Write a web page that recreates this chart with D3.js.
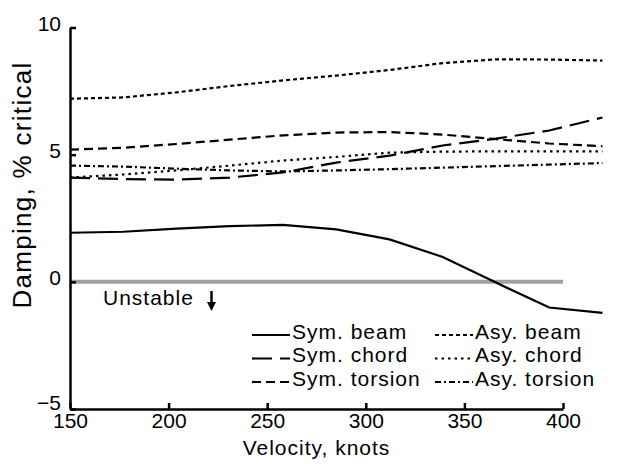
<!DOCTYPE html>
<html>
<head>
<meta charset="utf-8">
<script src="https://cdn.jsdelivr.net/npm/d3@7/dist/d3.min.js"></script>
<style>
  html, body { margin: 0; padding: 0; background: #fff; }
  svg { display: block; }
  text { font-family: "Liberation Sans", Arial, Helvetica, sans-serif; fill: #000; }
</style>
</head>
<body>
<svg id="chart" width="624" height="464"></svg>
<script>
// ---- data ----
const velocity   = [150, 177, 204, 231, 258, 285, 312, 339, 366, 393, 420];
const symBeam    = [1.93, 1.97, 2.09, 2.19, 2.24, 2.06, 1.67, 0.98, -0.03, -1.01, -1.22];
const symChord   = [4.10, 4.04, 4.02, 4.10, 4.30, 4.69, 4.96, 5.36, 5.63, 5.95, 6.46];
const symTorsion = [5.20, 5.27, 5.42, 5.59, 5.76, 5.87, 5.89, 5.79, 5.61, 5.44, 5.33];
const asyBeam    = [7.20, 7.25, 7.45, 7.70, 7.92, 8.11, 8.33, 8.60, 8.75, 8.74, 8.70];
const asyChord   = [4.10, 4.22, 4.38, 4.57, 4.77, 4.91, 5.08, 5.12, 5.13, 5.13, 5.13];
const asyTorsion = [4.57, 4.53, 4.45, 4.38, 4.34, 4.38, 4.43, 4.49, 4.55, 4.61, 4.67];
const seriesNames = ["Sym. beam", "Sym. chord", "Sym. torsion", "Asy. beam", "Asy. chord", "Asy. torsion"];
const xTicks = [150, 200, 250, 300, 350, 400];
const yTicks = [-5, 0, 5, 10];
const xTitle = "Velocity, knots";
const yTitle = "Damping, % critical";
const noteText = "Unstable";

const seriesValues = [symBeam, symChord, symTorsion, asyBeam, asyChord, asyTorsion];
const dashes = [null, "20,8", "9,5", "4,3", "2.5,4", "6,3,2,3"];

const svg = d3.select("#chart");
const x = d3.scaleLinear().domain([150, 400]).range([70, 563]);
const y = d3.scaleLinear().domain([-5, 10]).range([409, 27.5]);

// zero line
svg.append("line")
  .attr("x1", x(150)).attr("x2", x(400))
  .attr("y1", y(0)).attr("y2", y(0))
  .attr("stroke", "#a0a0a0").attr("stroke-width", 4);

// series lines
const line = d3.line().x(d => x(d[0])).y(d => y(d[1]));
seriesValues.forEach((vals, i) => {
  const pts = velocity.map((v, j) => [v, vals[j]]);
  svg.append("path")
    .attr("d", line(pts))
    .attr("fill", "none")
    .attr("stroke", "#000")
    .attr("stroke-width", 2.2)
    .attr("stroke-dasharray", dashes[i]);
});

// axes
const xAxis = svg.append("g").attr("transform", `translate(0,${y(-5)})`)
  .call(d3.axisBottom(x).tickValues(xTicks).tickSizeInner(-6).tickSizeOuter(0).tickPadding(4).tickFormat(d3.format("d")));
const yAxis = svg.append("g").attr("transform", `translate(${x(150)},0)`)
  .call(d3.axisLeft(y).tickValues(yTicks).tickSizeInner(-6).tickSizeOuter(0).tickPadding(9).tickFormat(d3.format("d")));
[xAxis, yAxis].forEach(g => {
  g.select(".domain").attr("stroke", "#000").attr("stroke-width", 2.5);
  g.selectAll(".tick line").attr("stroke", "#000").attr("stroke-width", 2.5);
  g.selectAll(".tick text").attr("font-size", 21).attr("font-family", "Liberation Sans, Arial, sans-serif").attr("fill", "#000");
});
yAxis.selectAll(".tick text").attr("transform", d => d === -5 ? "translate(0,-6)" : "translate(0,-4)");

// axis titles
svg.append("text").attr("x", (x(150) + x(400)) / 2).attr("y", 455)
  .attr("text-anchor", "middle").attr("font-size", 21).attr("letter-spacing", 1).text(xTitle);
svg.append("text").attr("transform", `translate(31,${185}) rotate(-90)`)
  .attr("text-anchor", "middle").attr("font-size", 26).attr("letter-spacing", 1.3).text(yTitle);

// unstable note
svg.append("text").attr("x", 103).attr("y", 305).attr("font-size", 21).attr("letter-spacing", 1).text(noteText);
svg.append("line").attr("x1", 211.5).attr("x2", 211.5).attr("y1", 291).attr("y2", 305)
  .attr("stroke", "#000").attr("stroke-width", 2.5);
svg.append("path").attr("d", "M207,302 L216,302 L211.5,311 Z").attr("fill", "#000");

// legend
const colX = [252, 435];
const rowY = [335, 358.5, 382];
seriesNames.forEach((name, i) => {
  const cx = colX[Math.floor(i / 3)], ry = rowY[i % 3];
  svg.append("line").attr("x1", cx).attr("x2", cx + 38).attr("y1", ry).attr("y2", ry)
    .attr("stroke", "#000").attr("stroke-width", 2.2).attr("stroke-dasharray", dashes[i]);
  svg.append("text").attr("x", cx + 40).attr("y", ry + 3.5)
    .attr("font-size", 21).attr("letter-spacing", 1).text(name);
});
</script>
</body>
</html>
